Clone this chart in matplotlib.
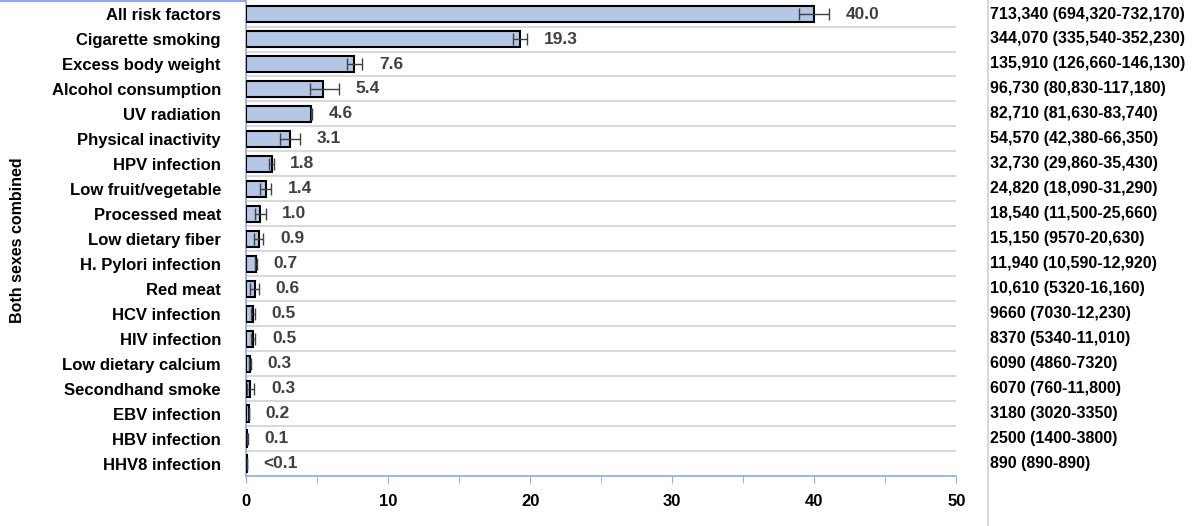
import matplotlib
matplotlib.use("Agg")
import matplotlib.pyplot as plt
from matplotlib.lines import Line2D
import numpy as np

categories = ["All risk factors", "Cigarette smoking", "Excess body weight", "Alcohol consumption",
              "UV radiation", "Physical inactivity", "HPV infection", "Low fruit/vegetable",
              "Processed meat", "Low dietary fiber", "H. Pylori infection", "Red meat",
              "HCV infection", "HIV infection", "Low dietary calcium", "Secondhand smoke",
              "EBV infection", "HBV infection", "HHV8 infection"]
percent = [40.0, 19.3, 7.6, 5.4, 4.6, 3.1, 1.8, 1.4, 1.0, 0.9, 0.7, 0.6, 0.5, 0.5, 0.3, 0.3, 0.2, 0.1, 0.05]
pct_labels = ["40.0", "19.3", "7.6", "5.4", "4.6", "3.1", "1.8", "1.4", "1.0", "0.9", "0.7", "0.6",
              "0.5", "0.5", "0.3", "0.3", "0.2", "0.1", "<0.1"]
counts = [713340, 344070, 135910, 96730, 82710, 54570, 32730, 24820, 18540, 15150, 11940, 10610,
          9660, 8370, 6090, 6070, 3180, 2500, 890]
ci_low = [694320, 335540, 126660, 80830, 81630, 42380, 29860, 18090, 11500, 9570, 10590, 5320,
          7030, 5340, 4860, 760, 3020, 1400, 890]
ci_high = [732170, 352230, 146130, 117180, 83740, 66350, 35430, 31290, 25660, 20630, 12920, 16160,
           12230, 11010, 7320, 11800, 3350, 3800, 890]
count_labels = ["713,340 (694,320-732,170)", "344,070 (335,540-352,230)", "135,910 (126,660-146,130)",
                "96,730 (80,830-117,180)", "82,710 (81,630-83,740)", "54,570 (42,380-66,350)",
                "32,730 (29,860-35,430)", "24,820 (18,090-31,290)", "18,540 (11,500-25,660)",
                "15,150 (9570-20,630)", "11,940 (10,590-12,920)", "10,610 (5320-16,160)",
                "9660 (7030-12,230)", "8370 (5340-11,010)", "6090 (4860-7320)", "6070 (760-11,800)",
                "3180 (3020-3350)", "2500 (1400-3800)", "890 (890-890)"]

plt.rcParams['font.family'] = ['Liberation Sans', 'DejaVu Sans']
fig = plt.figure(figsize=(12, 5.26), dpi=100)
ax = fig.add_axes([0.205, 0.095, 0.592, 0.902])

n = len(categories)
y = np.arange(n)
pct = np.array(percent)
scale = pct / np.array(counts)
lo = np.array(ci_low) * scale
hi = np.array(ci_high) * scale
ax.barh(y, pct, height=0.65, color="#B4C7E7", edgecolor="black", linewidth=1.5, zorder=3)
ax.errorbar(pct, y, xerr=[pct - lo, hi - pct], fmt="none", ecolor="#404040",
            elinewidth=1, capsize=4, capthick=1, zorder=4)
for i in range(n):
    ax.annotate(pct_labels[i], (max(hi[i], pct[i]), y[i]), xytext=(12, 0), textcoords="offset points",
                ha="left", va="center", fontsize=12.5, fontweight="bold", color="#404040")
    fig.text(990 / 1200, 1 - (14 + i * 24.95) / 526, count_labels[i], ha="left", va="center",
             fontsize=11.5, fontweight="bold", color="black")

ax.set_ylim(n - 0.5, -0.5)
ax.set_xlim(0, 50)
ax.set_yticks(y)
ax.set_yticklabels(categories, fontsize=12, fontweight="bold")
ax.tick_params(axis="y", length=0, pad=18)
ax.set_xticks(np.arange(0, 51, 10))
ax.set_xticks(np.arange(5, 50, 10), minor=True)
ax.tick_params(axis="x", which="both", direction="out", length=5, color="#8FAADC", labelsize=12, pad=8)
for lbl in ax.get_xticklabels():
    lbl.set_fontweight("bold")
for k in range(n - 1):
    ax.axhline(k + 0.5, color="#D9D9D9", linewidth=1.5, zorder=1)
for s in ["top", "right"]:
    ax.spines[s].set_visible(False)
ax.spines["left"].set_color("#8FAADC")
ax.spines["bottom"].set_color("#8FAADC")
ax.spines["left"].set_linewidth(1.2)
ax.spines["bottom"].set_linewidth(1.2)

fig.text(18 / 1200, 1 - 240 / 526, "Both sexes combined", rotation=90, ha="center", va="center",
         fontsize=11.5, fontweight="bold")
fig.add_artist(Line2D([0, 246 / 1200], [0.998, 0.998], color="#8FAADC", linewidth=1.5))
fig.add_artist(Line2D([988 / 1200, 988 / 1200], [0, 1], color="#D9D9D9", linewidth=1.5))

fig.savefig("out.png", dpi=100)
